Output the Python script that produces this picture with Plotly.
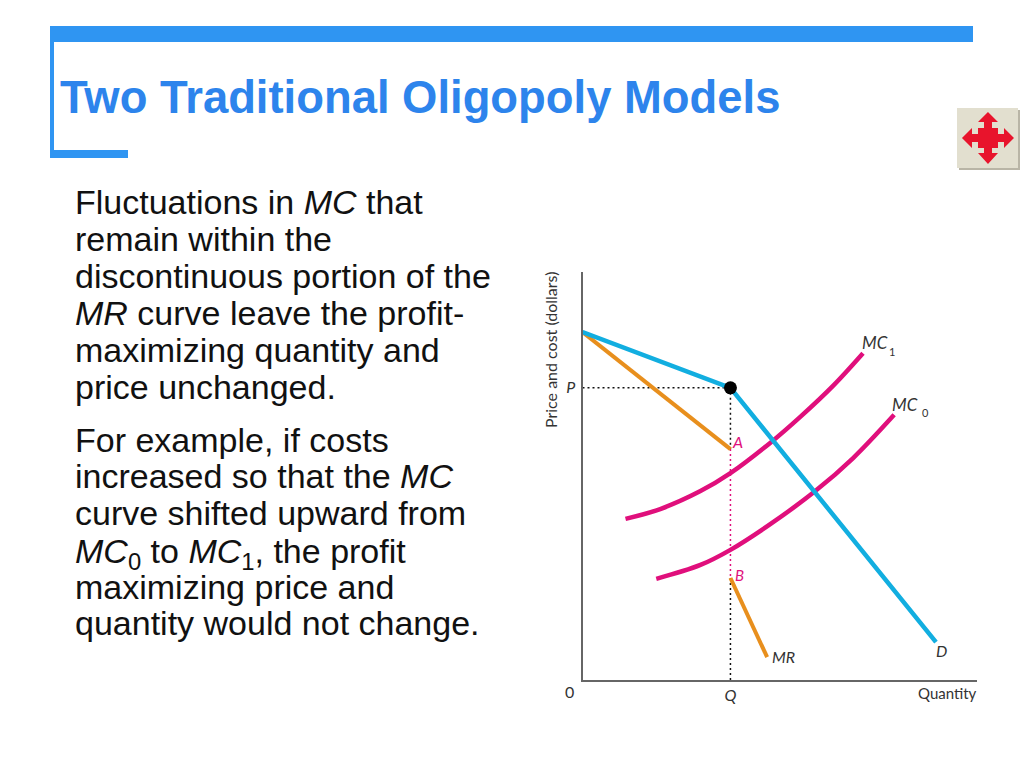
import plotly.graph_objects as go

W, H = 1024, 768
# ---- data (Quantity and Price read as % of the axis lengths)
q_d = [0, 37.5, 89.6]
p_d = [85.3, 71.6, 9.3]
q_mr_up = [0, 37.5]
p_mr_up = [85.3, 56.6]
q_mr_lo = [37.5, 46.8]
p_mr_lo = [25.0, 5.6]
q_mc1 = [10.9, 19.7, 29.9, 37.5, 47.8, 55.2, 63.5, 71.1]
p_mc1 = [39.5, 41.9, 46.3, 50.7, 58.3, 64.5, 72.1, 80.1]
q_mc0 = [18.7, 29.9, 37.5, 47.6, 59.0, 68.6, 79.0]
p_mc0 = [24.8, 28.2, 31.9, 38.2, 46.3, 54.4, 65.0]
q_eq = 37.5
p_eq = 71.6
p_a = 56.6
p_b = 25.0

title = "Two Traditional Oligopoly Models"
body = [
    "Fluctuations in <i>MC</i> that",
    "remain within the",
    "discontinuous portion of the",
    "<i>MR</i> curve leave the profit-",
    "maximizing quantity and",
    "price unchanged.",
    "For example, if costs",
    "increased so that the <i>MC</i>",
    "curve shifted upward from",
    "<i>MC</i><sub>0</sub> to <i>MC</i><sub>1</sub>, the profit",
    "maximizing price and",
    "quantity would not change.",
]
body_y = [202, 239, 276, 313, 350, 387, 440, 476, 513, 553, 587, 623]

BLUE, ORANGE, PINK = "#12aee0", "#e88f1d", "#e00f7c"
GRAY = "#666666"
BAR = "#2f95f2"
TITLE = "#2d84ec"
CHART_FONT = "Lato"
BODY_FONT = "Liberation Sans"

def fx(x): return x / W
def fy(y): return 1 - y / H

def line(q, p, color, width, dash="solid", shape="linear"):
    return go.Scatter(x=q, y=p, mode="lines", hoverinfo="skip", cliponaxis=False,
                      line=dict(color=color, width=width, dash=dash, shape=shape, smoothing=1.0))

fig = go.Figure()
DOT = "2px,3px"
fig.add_trace(line([0, q_eq], [p_eq, p_eq], "#111111", 1.5, DOT))
fig.add_trace(line([q_eq, q_eq], [p_eq, p_a], "#111111", 1.5, DOT))
fig.add_trace(line([q_eq, q_eq], [p_a, p_b], PINK, 1.5, DOT))
fig.add_trace(line([q_eq, q_eq], [p_b, 0], "#111111", 1.5, DOT))
fig.add_trace(line(q_mr_up, p_mr_up, ORANGE, 4))
fig.add_trace(line(q_mr_lo, p_mr_lo, ORANGE, 4))
fig.add_trace(line(q_mc1, p_mc1, PINK, 4.5, shape="spline"))
fig.add_trace(line(q_mc0, p_mc0, PINK, 4.5, shape="spline"))
fig.add_trace(line(q_d, p_d, BLUE, 4.5))
fig.add_trace(go.Scatter(x=[q_eq], y=[p_eq], mode="markers", hoverinfo="skip", cliponaxis=False,
                         marker=dict(color="black", size=13)))

shapes = []
def rect(x0, y0, x1, y1, color):
    shapes.append(dict(type="rect", xref="paper", yref="paper", x0=fx(x0), x1=fx(x1),
                       y0=fy(y1), y1=fy(y0), fillcolor=color, line=dict(width=0), layer="below"))
def poly(pts, color):
    path = "M" + " L".join(f"{fx(a):.5f},{fy(b):.5f}" for a, b in pts) + " Z"
    shapes.append(dict(type="path", xref="paper", yref="paper", path=path, fillcolor=color,
                       line=dict(width=0), layer="below"))

rect(50, 26, 973, 42, BAR)
rect(50, 26, 54, 158, BAR)
rect(50, 150, 128, 158, BAR)
# navigation button
rect(959, 110, 1020, 170, "#b9b5a6")
rect(957, 108, 1018, 168, "#e2dfcf")
RED = "#e8142c"
rect(978, 128, 998, 148, RED)
poly([(988, 112), (998, 122), (992, 122), (992, 128), (984, 128), (984, 122), (978, 122)], RED)
poly([(988, 164), (998, 153), (992, 153), (992, 148), (984, 148), (984, 153), (978, 153)], RED)
poly([(962, 138), (972, 128), (972, 134), (978, 134), (978, 142), (972, 142), (972, 148)], RED)
poly([(1014, 138), (1004, 128), (1004, 134), (998, 134), (998, 142), (1004, 142), (1004, 148)], RED)

ann = []
def text(x, y, s, size, color="#111111", family=BODY_FONT, xanchor="left", angle=0):
    ann.append(dict(x=fx(x), y=fy(y), xref="paper", yref="paper", text=s, showarrow=False,
                    xanchor=xanchor, yanchor="middle", textangle=angle, borderpad=0, borderwidth=0,
                    font=dict(family=family, size=size, color=color)))

text(60, 97, f"<b>{title}</b>", 45.4, TITLE)
for s, y in zip(body, body_y):
    text(75, y, s, 34)

dark = "#333333"
text(550, 350, "Price and cost (dollars)", 16, dark, CHART_FONT, "center", -90)
text(569, 691, "0", 16, dark, CHART_FONT, "center")
text(977, 693, "Quantity", 15, dark, CHART_FONT, "right")
text(862, 343, "<i>MC</i>", 17, dark, CHART_FONT)
text(889, 352, "1", 11, dark, CHART_FONT)
text(892, 404, "<i>MC</i>", 17, dark, CHART_FONT)
text(922, 412, "0", 11, dark, CHART_FONT)
text(732, 441, "<i>A</i>", 16, PINK, CHART_FONT)
text(735, 575, "<i>B</i>", 15, PINK, CHART_FONT)
text(772, 656, "<i>MR</i>", 16, dark, CHART_FONT)
text(936, 650, "<i>D</i>", 16, dark, CHART_FONT)

axis_common = dict(showgrid=False, zeroline=False, showline=True, linecolor=GRAY, linewidth=2,
                   ticks="", tickfont=dict(family=CHART_FONT, size=16, color=dark), fixedrange=True)
fig.update_layout(
    width=W, height=H, autosize=False, showlegend=False,
    margin=dict(l=0, r=0, t=0, b=0, pad=0),
    paper_bgcolor="white", plot_bgcolor="white",
    xaxis=dict(domain=[fx(582.5), fx(977)], range=[0, 100], tickvals=[q_eq], ticktext=["<i>Q</i>"],
               ticklabelstandoff=0, **axis_common),
    yaxis=dict(domain=[fy(680), fy(272)], range=[0, 100], tickvals=[p_eq], ticktext=["<i>P</i>"],
               ticklabelstandoff=2, **axis_common),
    shapes=shapes, annotations=ann,
)
fig.write_html("out.html", config={"displayModeBar": False},
               post_script="document.body.style.margin='0';")
